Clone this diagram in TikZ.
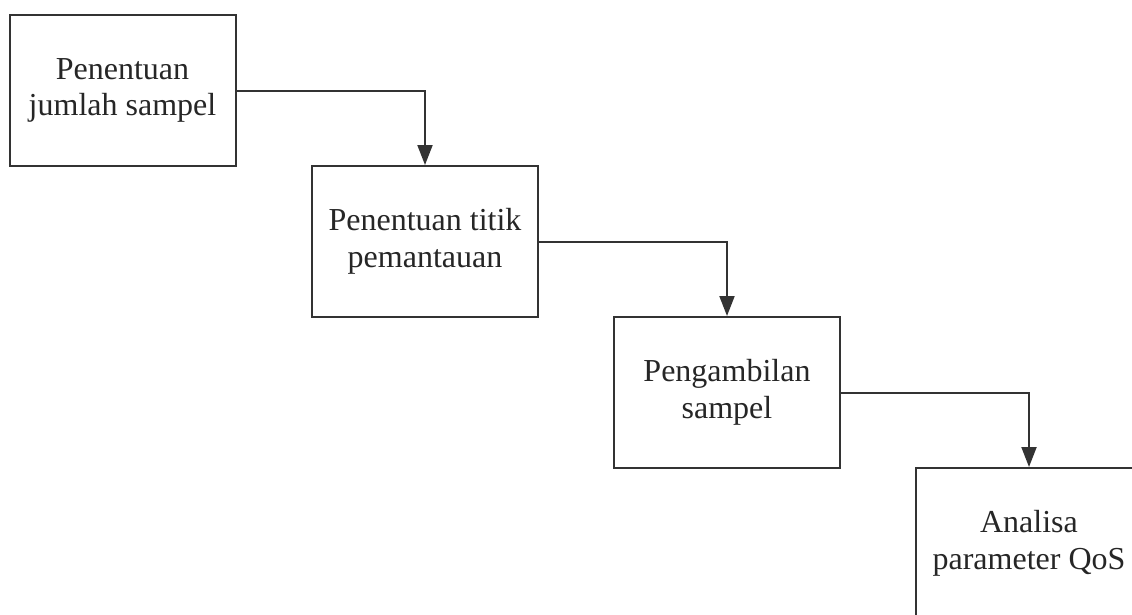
\documentclass[tikz,border=0pt]{standalone}
\usepackage{fontspec}
\setmainfont{Liberation Serif}
\usetikzlibrary{arrows.meta}
\begin{document}
\begin{tikzpicture}[x=1pt,y=-1pt,
  stage/.style={draw=black!80, line width=2pt, fill=white,
    minimum width=226pt, minimum height=151pt, inner sep=0pt,
    align=center, text=black!85,
    font=\fontsize{32}{36.5}\selectfont},
  flow/.style={draw=black!80, line width=2pt,
    -{Triangle[length=20pt,width=15pt]}}]
  \useasboundingbox (0,0) rectangle (1132,614);
  \clip (0,0) rectangle (1132,614);
  \node[stage] (b1) at (122.5,90.5) {Penentuan\\jumlah sampel};
  \node[stage] (b2) at (425,241.5) {Penentuan titik\\pemantauan};
  \node[stage] (b3) at (727,392.5) {Pengambilan\\sampel};
  \node[stage] (b4) at (1029,543.5) {Analisa\\parameter QoS};
  \draw[flow] (b1.east) -| (b2.north);
  \draw[flow] (b2.east) -| (b3.north);
  \draw[flow] (b3.east) -| (b4.north);
\end{tikzpicture}
\end{document}
